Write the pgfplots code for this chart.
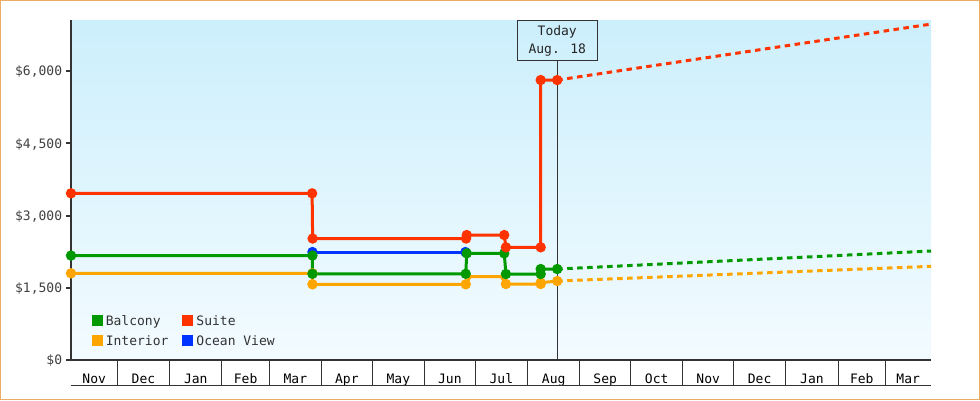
\documentclass[border=0pt]{standalone}
\usepackage{fontspec}
\setmainfont{DejaVu Sans Mono}
\usepackage{pgfplots}
\pgfplotsset{compat=1.18}

\definecolor{suite}{RGB}{255,51,0}
\definecolor{balcony}{RGB}{0,153,0}
\definecolor{interior}{RGB}{255,165,0}
\definecolor{ocean}{RGB}{0,51,255}
\definecolor{bgtop}{RGB}{204,239,252}
\definecolor{bgbot}{RGB}{243,251,255}
\definecolor{axisc}{RGB}{51,51,51}
\definecolor{framec}{RGB}{236,172,100}

% x = days since Nov 1 of the first year, y = price in dollars
\begin{document}
\fontsize{13}{15}\selectfont
\begin{tikzpicture}
    \begin{axis}[
        scale only axis,
        width=860pt, height=340pt,
        at={(0pt,0pt)}, anchor=south west,
        xmin=2.57, xmax=512, ymin=0, ymax=7060,
        clip=false,
        axis lines=left,
        axis line style={-, draw=axisc},
        x axis line style={line width=1.5pt},
        y axis line style={line width=2pt},
        axis background/.style={top color=bgtop, bottom color=bgbot},
        tick align=outside,
        major tick length=5pt,
        ytick={0,1500,3000,4500,6000},
        yticklabels={\$0,{\$1,500},{\$3,000},{\$4,500},{\$6,000}},
        ytick style={draw=axisc, line width=2pt},
        yticklabel style={anchor=base east, inner sep=0pt, xshift=-3.7pt, yshift=-4.8pt, text=black!75},
        xtick={16.3,45.5,76.5,106,135.5,166,196.5,227,257.5,288.5,319,349.5,380,410.5,441.5,471,498.5},
        xticklabels={Nov,Dec,Jan,Feb,Mar,Apr,May,Jun,Jul,Aug,Sep,Oct,Nov,Dec,Jan,Feb,Mar},
        xtick style={draw=none},
        xticklabel style={anchor=base, inner sep=0pt, yshift=-18.3pt, text=black},
        extra x ticks={30,61,92,120,151,181,212,242,273,304,334,365,395,426,457,485},
        extra x tick labels={},
        extra x tick style={major tick length=25pt, xtick style={draw=axisc, line width=1pt}},
        legend columns=2,
        legend cell align=left,
        legend image code/.code={\path[#1, draw=none] (0pt,-4pt) rectangle (11pt,7pt);},
        legend style={draw=none, fill=none, at={(0.024,0.133)}, anchor=north west,
            inner sep=0pt, row sep=7pt, nodes={inner sep=0pt, text=black!80},
            /tikz/every odd column/.append style={column sep=3pt},
            /tikz/every even column/.append style={column sep=14pt}},
        every axis plot/.append style={line width=3pt, mark=*, mark size=3.6pt, mark options={solid, draw=none}},
    ]
    % band under the month names
    \draw[axisc, line width=1pt] ([yshift=-25pt]rel axis cs:0,0) -- ([yshift=-25pt]rel axis cs:1,0);
    % today marker
    \node[draw=axisc, line width=1pt, minimum width=80pt, minimum height=40pt,
        anchor=north, align=center, inner sep=0pt, text=black!85] (today)
        at (axis cs:290.6,7060) {Today\\[3pt]Aug. 18};
    \draw[axisc, line width=1pt] (axis cs:290.6,0) -- (today.south);

    % Ocean View
    \addplot[ocean, forget plot] coordinates {
        (145.6,2242) (236.2,2242)
    };
    % Interior
    \addplot[interior, forget plot, mark indices={1,2,3,4,7,8,9,10}] coordinates {
        (2.57,1800) (145.6,1800) (145.6,1572) (236.4,1572)
        (239,1729) (257.5,1729)
        (260.2,1578) (280.8,1578) (280.8,1605) (290.6,1640)
    };
    \addplot[interior, forget plot, mark=none, dash pattern=on 5.5pt off 4.5pt] coordinates {
        (290.6,1640) (512,1945)
    };
    % Balcony
    \addplot[balcony, forget plot] coordinates {
        (2.57,2169) (145.6,2169) (145.6,1790) (236.4,1790) (237,2215)
        (259.2,2215) (260.2,1785) (280.8,1785) (280.8,1889) (290.6,1889)
    };
    \addplot[balcony, forget plot, mark=none, dash pattern=on 5.5pt off 4.5pt] coordinates {
        (290.6,1889) (512,2263)
    };
    % Suite
    \addplot[suite, forget plot] coordinates {
        (2.57,3461) (145.4,3461) (145.7,2522) (236.6,2522) (237,2595)
        (259.2,2595) (260.2,2340) (280.8,2340) (280.8,5813) (290.6,5813)
    };
    \addplot[suite, forget plot, mark=none, dash pattern=on 5.5pt off 4.5pt] coordinates {
        (290.6,5813) (512,6975)
    };

    \addlegendimage{fill=balcony}
    \addlegendentry{Balcony}
    \addlegendimage{fill=suite}
    \addlegendentry{Suite}
    \addlegendimage{fill=interior}
    \addlegendentry{Interior}
    \addlegendimage{fill=ocean}
    \addlegendentry{Ocean View}
    \end{axis}
    \pgfresetboundingbox
    \path[use as bounding box] (-71pt,-40pt) rectangle (909pt,360pt);
    \draw[framec, line width=1.5pt] (-70.25pt,-39.25pt) rectangle (908.25pt,359.25pt);
\end{tikzpicture}
\end{document}
